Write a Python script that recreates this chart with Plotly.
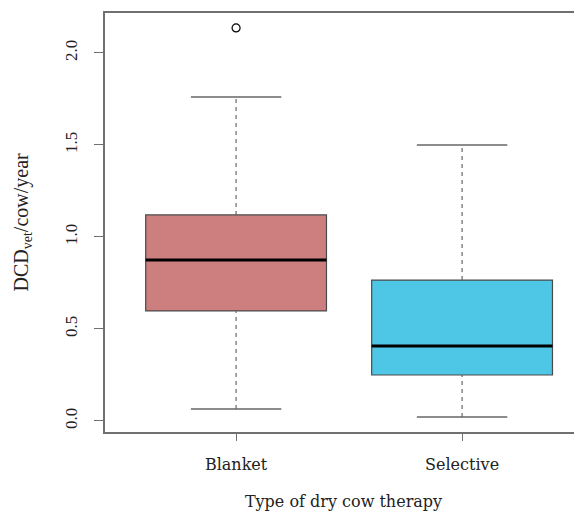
import plotly.graph_objects as go

categories = ["Blanket", "Selective"]
positions = [1, 2]
q1 = [0.598, 0.25]
median = [0.875, 0.408]
q3 = [1.12, 0.766]
whisker_low = [0.065, 0.022]
whisker_high = [1.76, 1.50]
outliers = [[2.136], []]
fill_colors = ["#CD7F7F", "#4EC6E6"]
y_ticks = [0.0, 0.5, 1.0, 1.5, 2.0]
y_tick_labels = ["0.0", "0.5", "1.0", "1.5", "2.0"]

BOX_W = 0.8
CAP_W = 0.4
box_line = "#4a4a4a"
whisk_col = "#666666"
frame_col = "#707070"

fig = go.Figure()

for i, p in enumerate(positions):
    # whiskers (dashed) and caps
    fig.add_trace(go.Scatter(x=[p, p], y=[q3[i], whisker_high[i]], mode="lines",
                             line=dict(color=whisk_col, width=1.2, dash="4px,4px"),
                             showlegend=False, hoverinfo="skip"))
    fig.add_trace(go.Scatter(x=[p, p], y=[whisker_low[i], q1[i]], mode="lines",
                             line=dict(color=whisk_col, width=1.2, dash="4px,4px"),
                             showlegend=False, hoverinfo="skip"))
    for w in (whisker_high[i], whisker_low[i]):
        fig.add_trace(go.Scatter(x=[p - CAP_W / 2, p + CAP_W / 2], y=[w, w], mode="lines",
                                 line=dict(color=whisk_col, width=1.5),
                                 showlegend=False, hoverinfo="skip"))
    # box
    fig.add_trace(go.Box(x=[p], q1=[q1[i]], median=[median[i]], q3=[q3[i]],
                         lowerfence=[q1[i]], upperfence=[q3[i]],
                         width=BOX_W, fillcolor=fill_colors[i],
                         line=dict(color=box_line, width=1.2),
                         boxpoints=False, showlegend=False, name=categories[i]))
    # median
    fig.add_trace(go.Scatter(x=[p - BOX_W / 2, p + BOX_W / 2], y=[median[i], median[i]],
                             mode="lines", line=dict(color="black", width=3),
                             showlegend=False, hoverinfo="skip"))
    # outliers
    if outliers[i]:
        fig.add_trace(go.Scatter(x=[p] * len(outliers[i]), y=outliers[i], mode="markers",
                                 marker=dict(symbol="circle-open", size=8, color="black",
                                             line=dict(width=1.2)),
                                 showlegend=False))

# page body has an 8px default margin; compensate so the plot frame lands where the reference has it
fig.update_layout(
    width=574, height=507,
    margin=dict(l=97, r=0, t=5, b=83, autoexpand=False),
    paper_bgcolor="white", plot_bgcolor="white",
    showlegend=False,
    annotations=[dict(text="DCD<sub>vet</sub>/cow/year", textangle=-90,
                      xref="paper", yref="paper", x=0, y=0.5,
                      xanchor="center", yanchor="middle", xshift=-83, showarrow=False,
                      font=dict(family="Liberation Serif", size=20, color="#222"))],
)
fig.update_xaxes(
    type="linear", range=[0.42, 2.5306], automargin=False,
    tickvals=positions, ticktext=categories,
    showgrid=False, zeroline=False,
    showline=True, linecolor=frame_col, linewidth=1.5, mirror=True,
    ticks="outside", ticklen=7, tickcolor=frame_col, tickwidth=1.2,
    tickfont=dict(family="DejaVu Serif", size=16, color="#222"),
    ticklabelstandoff=10,
    title=dict(text="Type of dry cow therapy", standoff=23,
               font=dict(family="DejaVu Serif", size=16, color="#222")),
)
fig.update_yaxes(
    range=[-0.0598, 2.217], automargin=False,
    tickvals=y_ticks, ticktext=y_tick_labels, tickangle=-90,
    showgrid=False, zeroline=False,
    showline=True, linecolor=frame_col, linewidth=1.5,
    ticks="outside", ticklen=9, tickcolor=frame_col, tickwidth=1.2,
    tickfont=dict(family="Liberation Serif", size=17, color="#222"),
    ticklabelstandoff=10,
)

fig.write_html("out.html")
